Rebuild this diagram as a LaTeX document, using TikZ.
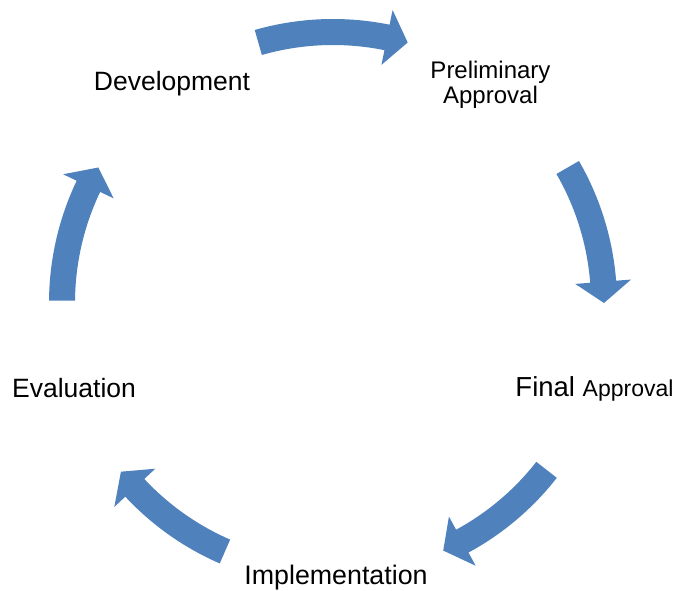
\documentclass[tikz,border=0pt]{standalone}
\usepackage{fontspec}
\setmainfont{Liberation Sans}
\definecolor{arrowblue}{RGB}{79,129,189}
\begin{document}
\begin{tikzpicture}[x=1pt, y=1pt,
        stage/.style={inner sep=0pt, font=\fontsize{26.5}{30}\selectfont},
        cyclearrow/.style={fill=arrowblue}]
        \useasboundingbox (0, 0) rectangle (675, 591);
        \begin{scope}[shift={(333, 288)}]
        % Development -> Preliminary Approval
        \fill[cyclearrow] (106:284pt) arc[start angle=106, end angle=78.5, radius=284pt] -- (78.5:299pt) -- (74:271pt) -- (78.5:243pt) -- (78.5:258pt) arc[start angle=78.5, end angle=106, radius=258pt] -- cycle;
        % Preliminary Approval -> Final Approval
        \fill[cyclearrow] (30:284pt) arc[start angle=30, end angle=4.5, radius=284pt] -- (4.5:299pt) -- (0:271pt) -- (4.5:243pt) -- (4.5:258pt) arc[start angle=4.5, end angle=30, radius=258pt] -- cycle;
        % Final Approval -> Implementation
        \fill[cyclearrow] (-38:284pt) arc[start angle=-38, end angle=-61.5, radius=284pt] -- (-61.5:299pt) -- (-66:271pt) -- (-61.5:243pt) -- (-61.5:258pt) arc[start angle=-61.5, end angle=-38, radius=258pt] -- cycle;
        % Implementation -> Evaluation
        \fill[cyclearrow] (-113.5:284pt) arc[start angle=-113.5, end angle=-137, radius=284pt] -- (-137:299pt) -- (-141.5:271pt) -- (-137:243pt) -- (-137:258pt) arc[start angle=-137, end angle=-113.5, radius=258pt] -- cycle;
        % Evaluation -> Development
        \fill[cyclearrow] (179.5:284pt) arc[start angle=179.5, end angle=154.5, radius=284pt] -- (154.5:299pt) -- (150:271pt) -- (154.5:243pt) -- (154.5:258pt) arc[start angle=154.5, end angle=179.5, radius=258pt] -- cycle;
        \end{scope}
        \node[stage, anchor=base] (dev) at (172, 500) {Development};
        \node[stage, anchor=north, align=center, font=\fontsize{24}{25}\selectfont] (prelim) at (490.5, 530.2) {Preliminary\\Approval};
        \node[stage, anchor=base] (final) at (594.5, 194) {\fontsize{27.5}{30}\selectfont Final {\fontsize{23}{27}\selectfont Approval}};
        \node[stage, anchor=base, font=\fontsize{26.8}{30}\selectfont] (impl) at (336, 6.5) {Implementation};
        \node[stage, anchor=base] (eval) at (74, 193) {Evaluation};
\end{tikzpicture}
\end{document}
